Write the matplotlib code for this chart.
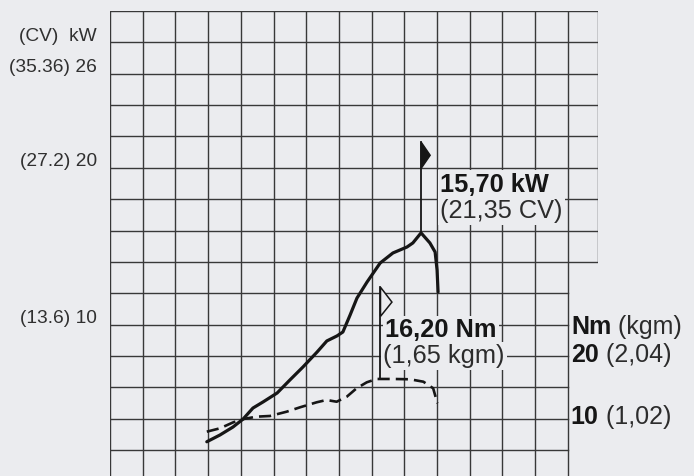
import numpy as np
import matplotlib.pyplot as plt
from matplotlib.patches import Polygon

plt.rcParams['font.family'] = ['Liberation Sans', 'DejaVu Sans']

W, H = 694, 476
bg = '#ebecef'
ink = '#161616'
soft = '#2c2c2c'
grid_col = '#383838'

# x is measured in grid columns (no rpm scale printed on the chart)
power_x = [2.96, 3.36, 3.76, 4.07, 4.37, 4.68, 5.11, 5.50, 5.90, 6.33, 6.63, 6.94,
           7.12, 7.34, 7.55, 7.86, 8.26, 8.65, 9.08, 9.26, 9.51, 9.78, 9.94, 10.00, 10.03]
power_kw = [2.03, 2.46, 2.97, 3.48, 4.18, 4.57, 5.14, 5.97, 6.80, 7.75, 8.46, 8.78,
            9.03, 10.11, 11.19, 12.22, 13.43, 14.07, 14.45, 14.71, 15.35, 14.71, 14.13, 12.98, 11.58]

torque_x = [2.96, 3.36, 3.77, 4.08, 4.48, 4.89, 5.40, 5.81, 6.32, 6.62, 6.93, 7.24,
            7.54, 7.85, 8.15, 8.66, 9.17, 9.58, 9.88, 10.01]
torque_nm = [7.23, 7.77, 8.74, 9.27, 9.65, 9.76, 10.45, 11.16, 11.97, 12.34, 12.06, 12.87,
             14.23, 15.19, 15.73, 15.73, 15.68, 15.29, 14.23, 11.81]
torque_peak_x = 8.27

kw_ticks = [26, 20, 10]
kw_labels = ['(35.36) 26', '(27.2) 20', '(13.6) 10']
nm_ticks = [20, 10]
kgm_labels = ['(2,04)', '(1,02)']

power_note = ['15,70 kW', '(21,35 CV)']
torque_note = ['16,20 Nm', '(1,65 kgm)']


def px(x, y):
    # pixel position -> figure fraction
    return x / W, 1 - y / H


fig = plt.figure(figsize=(W / 100, H / 100), dpi=100, facecolor=bg)
ax = fig.add_axes([110 / W, 0, (598 - 110) / W, (476 - 11) / H])
ax.set_facecolor('none')
ax.set_xlim(0, 14.92)
ax.set_ylim(-0.153, 29.5)
for s in ax.spines.values():
    s.set_visible(False)
ax.set_xticks([])
ax.set_yticks(kw_ticks, kw_labels, fontsize=13.8, color='#303030')
ax.tick_params(axis='y', length=0, pad=9.4)

ax2 = ax.twinx()
ax2.set_ylim(0.08, 75.08)
ax2.set_yticks([])
for s in ax2.spines.values():
    s.set_visible(False)

# grid: full width below, extra column in the upper rows
rows = np.arange(1.5, 29.6, 2)
cols = np.arange(0, 15)
for r in rows:
    x_end = 14.92 if r >= 13.5 else 14
    ax.plot([0, x_end], [r, r], color=grid_col, lw=1.0, zorder=1)
ax.vlines(cols, -0.153, 29.5, color=grid_col, lw=1.0, zorder=1)
ax.vlines(14.92, 13.5, 29.5, color=grid_col, lw=1.0, zorder=1)

# curves
ax.plot(power_x, power_kw, color=ink, lw=2.3, solid_joinstyle='round',
        solid_capstyle='round', zorder=3)
ax2.plot(torque_x, torque_nm, color=ink, lw=1.9, dashes=(4.6, 2.3), zorder=3)

# power peak flag (filled)
i = int(np.argmax(power_kw))
xp, yp = power_x[i], power_kw[i]
ax.plot([xp, xp], [yp, yp + 5.8], color=ink, lw=1.3, zorder=3)
ax.add_patch(Polygon([[xp, yp + 5.8], [xp + 0.28, yp + 4.95], [xp, yp + 4.1]],
                     closed=True, fc=ink, ec=ink, lw=1, zorder=3))

# torque peak flag (open)
yt = np.interp(torque_peak_x, torque_x, torque_nm)
ax2.plot([torque_peak_x, torque_peak_x], [yt, yt + 14.8], color=ink, lw=1.3, zorder=3)
ax2.add_patch(Polygon([[torque_peak_x, yt + 14.8], [torque_peak_x + 0.35, yt + 12.4],
                       [torque_peak_x, yt + 10.1]],
                      closed=True, fc=bg, ec=ink, lw=1.1, zorder=3))

box = dict(fc=bg, ec='none', pad=1.5)
fig.text(*px(440, 191.5), power_note[0], fontsize=18.3, fontweight='bold', color=ink,
         va='baseline', bbox=box, zorder=4)
fig.text(*px(440, 218), power_note[1], fontsize=18.3, color=soft,
         va='baseline', bbox=box, zorder=4)
fig.text(*px(385, 337), torque_note[0], fontsize=18.3, fontweight='bold', color=ink,
         va='baseline', bbox=box, zorder=4)
fig.text(*px(383, 363), torque_note[1], fontsize=18.3, color=soft,
         va='baseline', bbox=box, zorder=4)

# axis headers
fig.text(*px(97, 40.7), '(CV)  kW', fontsize=13.8, color='#303030', ha='right', va='baseline')
t = fig.text(*px(571, 334), 'Nm', fontsize=18, fontweight='bold', color=ink, va='baseline')
ax2.annotate(' (kgm)', xy=(1, 0), xycoords=t, va='bottom', fontsize=18, color=soft)

# right torque scale
for v, lab in zip(nm_ticks, kgm_labels):
    t = ax2.text(14.09, v, str(v), fontsize=18, fontweight='bold', color=ink,
                 va='center_baseline')
    ax2.annotate(' ' + lab, xy=(1, 0), xycoords=t, va='bottom', fontsize=18, color=soft)

fig.savefig('out.png', dpi=100, facecolor=bg)
